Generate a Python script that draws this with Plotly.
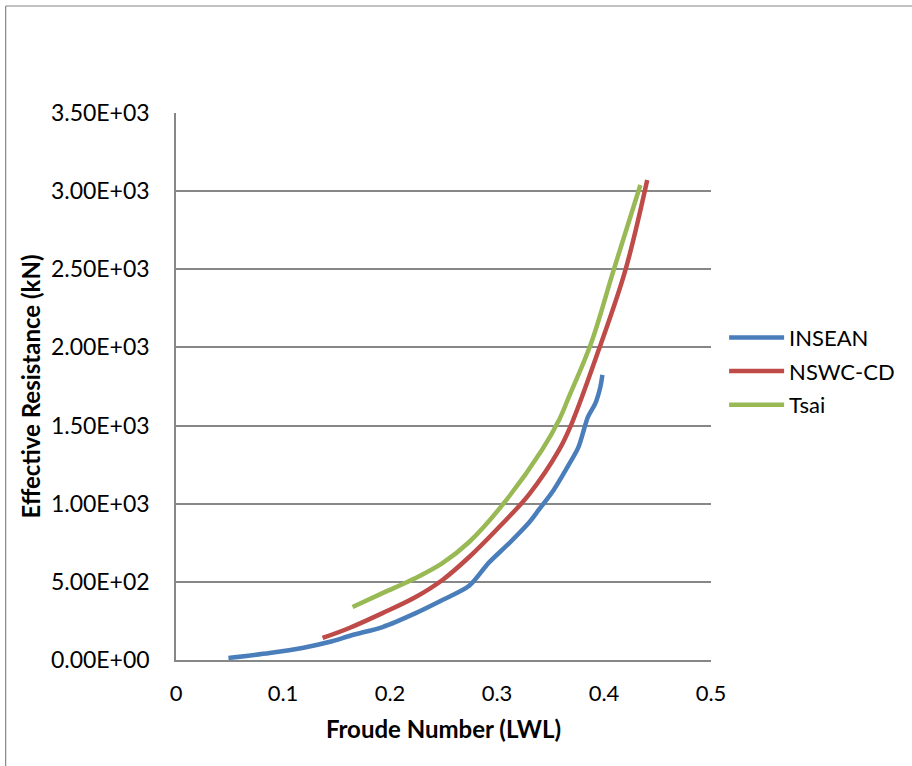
import plotly.graph_objects as go

# INSEAN
insean_fr = [0.049, 0.0875, 0.118, 0.143, 0.165, 0.193, 0.224, 0.249, 0.274, 0.292, 0.311,
             0.33, 0.339, 0.353, 0.367, 0.376, 0.385, 0.392, 0.3966, 0.3985]
insean_r = [13, 45, 77, 115, 160, 211, 300, 384, 475, 620, 745,
            880, 960, 1088, 1248, 1360, 1555, 1644, 1747, 1824]

# NSWC-CD
nswc_fr = [0.137, 0.162, 0.193, 0.224, 0.249, 0.274, 0.302, 0.33, 0.358, 0.370, 0.395, 0.420, 0.4404]
nswc_r = [141, 205, 300, 403, 512, 659, 851, 1060, 1344, 1516, 1983, 2495, 3071]

# Tsai
tsai_fr = [0.165, 0.193, 0.224, 0.249, 0.274, 0.306, 0.342, 0.358, 0.367, 0.388, 0.409, 0.434]
tsai_r = [339, 428, 525, 620, 755, 1000, 1344, 1536, 1680, 2028, 2495, 3039]

y_tickvals = [0, 500, 1000, 1500, 2000, 2500, 3000, 3500]
y_ticktext = ["0.00E+00", "5.00E+02", "1.00E+03", "1.50E+03", "2.00E+03", "2.50E+03", "3.00E+03", "3.50E+03"]
x_tickvals = [0, 0.1, 0.2, 0.3, 0.4, 0.5]
x_ticktext = ["0", "0.1", "0.2", "0.3", "0.4", "0.5"]

fig = go.Figure()
fig.add_trace(go.Scatter(x=insean_fr, y=insean_r, mode="lines", name="INSEAN", legendgroup="a",
                         line=dict(color="#4A7EBB", width=4.5, shape="spline", smoothing=0.8)))
fig.add_trace(go.Scatter(x=nswc_fr, y=nswc_r, mode="lines", name="NSWC-CD", legendgroup="b",
                         line=dict(color="#BE4B48", width=4.5, shape="spline", smoothing=1.0)))
fig.add_trace(go.Scatter(x=tsai_fr, y=tsai_r, mode="lines", name="Tsai", legendgroup="c",
                         line=dict(color="#98B954", width=4.5, shape="spline", smoothing=1.0)))

grid = "#878787"
fig.update_layout(
    width=912, height=766,
    margin=dict(l=176, r=199, t=113, b=106),
    paper_bgcolor="white", plot_bgcolor="white",
    font=dict(family="Lato", size=23, color="black"),
    showlegend=True,
    legend=dict(x=1.0245, y=0.528, xanchor="left", yanchor="middle",
                font=dict(family="Lato", size=22), tracegroupgap=2, itemwidth=55,
                bgcolor="rgba(0,0,0,0)"),
    xaxis=dict(range=[0, 0.5], tickvals=x_tickvals, ticktext=x_ticktext,
               showgrid=False, zeroline=False, showline=True, linecolor=grid, linewidth=1.5,
               ticks="outside", ticklen=13, tickcolor="rgba(0,0,0,0)",
               tickfont=dict(size=22),
               title=dict(text="<b>Froude Number (LWL)</b>", standoff=16, font=dict(size=24))),
    yaxis=dict(range=[0, 3500], tickvals=y_tickvals, ticktext=y_ticktext,
               showgrid=True, gridcolor=grid, gridwidth=1.5, zeroline=False,
               showline=True, linecolor=grid, linewidth=1.5,
               ticks="outside", ticklen=20, tickcolor="rgba(0,0,0,0)",
               tickfont=dict(size=23),
               title=dict(text="<b>Effective Resistance (kN)</b>", standoff=4, font=dict(size=24))),
    shapes=[
        dict(type="line", xref="paper", yref="paper", x0=-0.3184, x1=-0.3184, y0=1.1956, y1=-0.3,
             line=dict(color="#868686", width=1.2)),
        dict(type="line", xref="paper", yref="paper", x0=-0.3184, x1=1.5, y0=1.1956, y1=1.1956,
             line=dict(color="#868686", width=1.2)),
    ],
)
fig.write_html("out.html", config={"displayModeBar": False},
               post_script="document.body.style.margin='0';document.body.style.overflow='hidden';")
